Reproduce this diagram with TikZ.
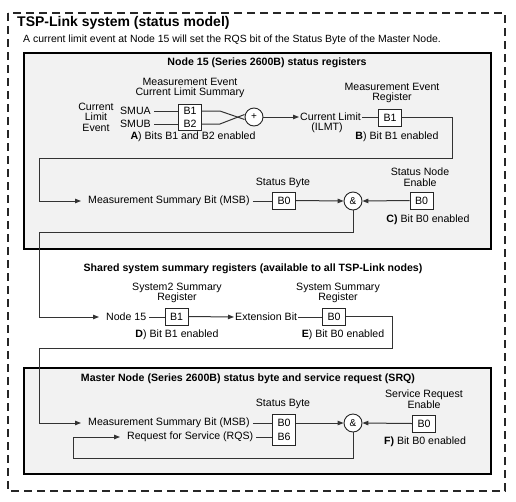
\documentclass[tikz,border=0pt]{standalone}
\usepackage{fontspec}
\setmainfont{Liberation Sans}
\usetikzlibrary{arrows.meta,calc}
\begin{document}
\begin{tikzpicture}[x=1pt,y=-1pt,
 txt/.style={inner sep=0pt,font=\fontsize{10.6}{10.5}\selectfont,align=center},
 lbl/.style={inner xsep=3pt,inner ysep=1pt,font=\fontsize{10.6}{10.5}\selectfont},
 reg/.style={draw=black!85,line width=0.8pt,fill=white,minimum width=23pt,minimum height=17pt,inner sep=0pt,font=\fontsize{10.6}{12}\selectfont},
 gate/.style={circle,draw=black!85,line width=0.9pt,fill=white,minimum size=18pt,inner sep=0pt,font=\fontsize{10}{12}\selectfont},
 wire/.style={draw=black!80,line width=1pt},
 arr/.style={wire,-{Triangle[length=6pt,width=4.5pt]}},
 totext/.style={arr,shorten >=4pt},
 section/.style={draw=black,line width=1.8pt,fill=black!5},
 head/.style={inner sep=0pt,font=\bfseries\fontsize{10.6}{12}\selectfont},
]
\useasboundingbox (0,0) rectangle (516,501);
\draw[line width=1.6pt,dash pattern=on 8pt off 5pt,black!85] (8,13) rectangle (505,491);
\node[inner sep=0pt,anchor=west,font=\bfseries\fontsize{14}{16}\selectfont] (title) at (17,23) {TSP-Link system (status model)};
\node[inner sep=0pt,anchor=west,font=\fontsize{10.45}{12}\selectfont] (sub) at (23,40) {A current limit event at Node 15 will set the RQS bit of the Status Byte of the Master Node.};

% ---------- Node 15 ----------
\draw[section] (24,53) rectangle (491,249);
\node[head] (h15) at (267,63) {Node 15 (Series 2600B) status registers};
\node[txt] (mecls) at (190,88) {Measurement Event\\Current Limit Summary};
\node[txt] (cle) at (96,117) {Current\\Limit\\Event};
\node[lbl,anchor=east] (smua) at (154,111) {SMUA};
\node[lbl,anchor=east] (smub) at (154,124) {SMUB};
\node[reg,minimum height=26pt] (bb) at (190,117.5) {};
\node[txt] (bb1) at (190,111) {B1};
\node[txt] (bb2) at (190,124) {B2};
\node[txt] (capa) at (193,137) {\textbf{A}) Bits B1 and B2 enabled};
\node[gate] (plus) at (254,117) {+};
\draw[wire] (smua.east) -- (smua.east -| bb.west);
\draw[wire] (smub.east) -- (smub.east -| bb.west);
\draw[wire] (bb.east |- bb1) -- ++(18,0) -- ($(plus.west)+(0,2.5)$);
\draw[wire] (bb.east |- bb2) -- ++(18,0) -- ($(plus.west)+(0,-2.5)$);
\node[lbl,anchor=west,inner xsep=1pt] (cl) at (299,117) {Current Limit};
\node[txt] (ilmt) at (327,128) {(ILMT)};
\draw[arr] (plus.east) -- (cl.west);
\node[txt] (mer) at (392,93) {Measurement Event\\Register};
\node[reg] (meb) at (390,117.5) {B1};
\node[txt] (capb) at (397,137) {\textbf{B}) Bit B1 enabled};
\draw[wire] (cl.east) -- (cl.east -| meb.west);
\node[lbl,anchor=west] (msb1) at (85,201) {Measurement Summary Bit (MSB)};
\draw[totext] (meb.east) -- (452,117.5) -- (452,158) -- (39,158) -- (39,201) -- (msb1.west);
\node[txt] (sbl1) at (283,183) {Status Byte};
\node[reg] (sb1) at (284,200.5) {B0};
\draw[wire] (msb1.east) -- (msb1.east -| sb1.west);
\node[gate] (and1) at (353,201) {\&};
\draw[arr] (sb1.east) -- (and1.west);
\node[txt] (snel) at (420,177) {Status Node\\Enable};
\node[reg] (sne) at (421.5,200.5) {B0};
\node[txt] (capc) at (428,220) {\textbf{C)} Bit B0 enabled};
\draw[arr] (sne.west) -- (and1.east);

% ---------- Shared ----------
\node[head] (hsh) at (253,269) {Shared system summary registers (available to all TSP-Link nodes)};
\node[lbl,anchor=west] (n15) at (103,317) {Node 15};
\draw[totext] (and1.south) -- (353,232) -- (39,232) -- (39,317) -- (n15.west);
\node[txt] (s2l) at (177,293) {System2 Summary\\Register};
\node[reg] (s2) at (176.5,316.5) {B1};
\node[txt] (capd) at (177,335) {\textbf{D}) Bit B1 enabled};
\draw[wire] (n15.east) -- (n15.east -| s2.west);
\node[lbl,anchor=west,inner xsep=1pt] (ext) at (234,317) {Extension Bit};
\draw[arr] (s2.east) -- (ext.west);
\node[txt] (ssl) at (338,293) {System Summary\\Register};
\node[reg] (ssr) at (334,316.5) {B0};
\node[txt] (cape) at (343,335) {\textbf{E}) Bit B0 enabled};
\draw[wire] (ext.east) -- (ext.east -| ssr.west);

% ---------- Master ----------
\draw[section] (24,368) rectangle (491,474);
\node[head] (hm) at (248,379) {Master Node (Series 2600B) status byte and service request (SRQ)};
\node[lbl,anchor=west] (msb2) at (85,423) {Measurement Summary Bit (MSB)};
\draw[totext] (ssr.east) -- (392,316.5) -- (392,348) -- (39,348) -- (39,423) -- (msb2.west);
\node[lbl,anchor=west] (rqs) at (124,437) {Request for Service (RQS)};
\node[txt] (sbl2) at (283,404) {Status Byte};
\node[reg,minimum height=31pt] (sb2) at (284,429.5) {};
\node[txt] (sb2a) at (284,423) {B0};
\node[txt] (sb2b) at (284,437) {B6};
\draw[wire] (msb2.east) -- (msb2.east -| sb2.west);
\draw[wire] (rqs.east) -- (rqs.east -| sb2.west);
\node[gate] (and2) at (353,423) {\&};
\draw[arr] (sb2.east |- sb2a) -- (and2.west);
\node[txt] (srel) at (424,399) {Service Request\\Enable};
\node[reg] (sre) at (424,423.5) {B0};
\node[txt] (capf) at (425,442) {\textbf{F)} Bit B0 enabled};
\draw[arr] (sre.west) -- (and2.east);
\draw[totext] (and2.south) -- (353,458) -- (73,458) -- (73,437) -- (rqs.west);
\end{tikzpicture}
\end{document}
